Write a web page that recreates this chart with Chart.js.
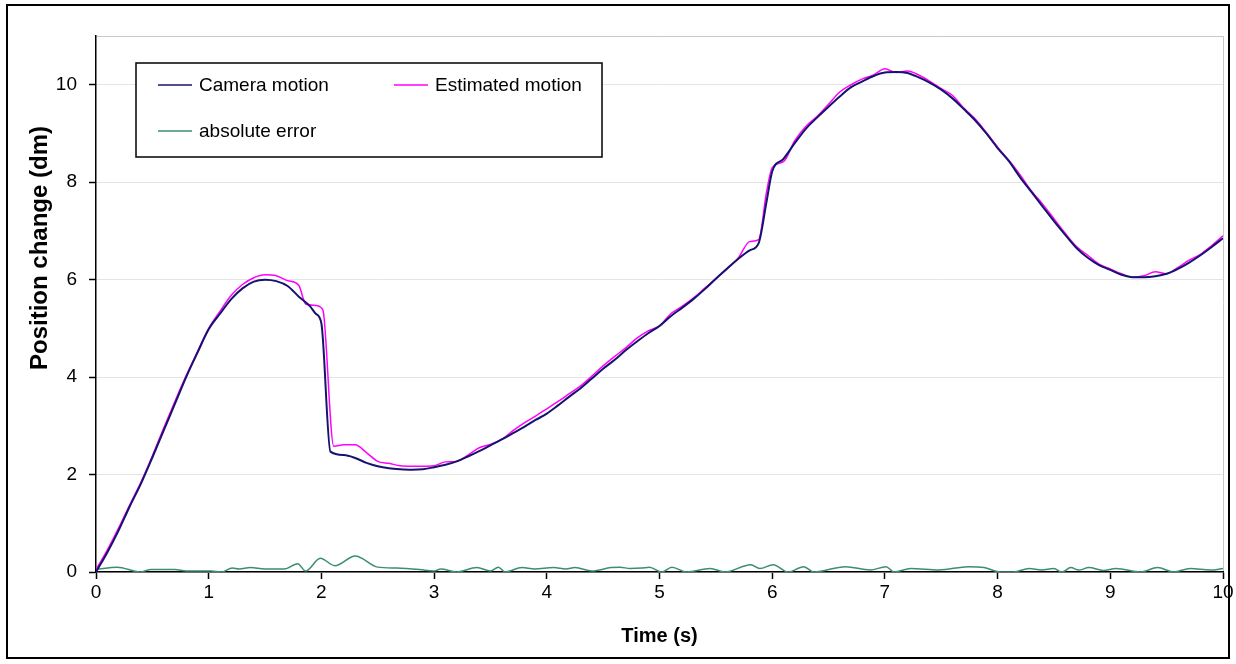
<!DOCTYPE html>
<html>
<head>
<meta charset="utf-8">
<script src="https://cdn.jsdelivr.net/npm/chart.js@4.4.1/dist/chart.umd.min.js"></script>
<style>
  html, body { margin: 0; padding: 0; background: #fff; }
  canvas { display: block; }
</style>
</head>
<body>
<canvas id="chart" width="1236" height="664"></canvas>
<script>
// time (s) and position (dm)
const cameraTime = [0, 0.1, 0.2, 0.3, 0.4, 0.5, 0.6, 0.7, 0.8, 0.9, 1.0, 1.1, 1.2, 1.3, 1.4, 1.5, 1.6, 1.7, 1.8, 1.9, 1.95, 2.0,
    2.08, 2.2, 2.3, 2.4, 2.5, 2.6, 2.7, 2.8, 2.9, 3.0, 3.1, 3.2, 3.3, 3.4, 3.5, 3.6, 3.7, 3.8, 3.9, 4.0,
    4.1, 4.2, 4.3, 4.4, 4.5, 4.6, 4.7, 4.8, 4.9, 5.0, 5.1, 5.2, 5.3, 5.4, 5.5, 5.6, 5.7, 5.8, 5.88, 5.95, 6.0,
    6.1, 6.2, 6.3, 6.4, 6.5, 6.6, 6.7, 6.8, 6.9, 7.0, 7.1, 7.2, 7.3, 7.4, 7.5, 7.6, 7.7, 7.8, 7.9, 8.0,
    8.1, 8.2, 8.3, 8.4, 8.5, 8.6, 8.7, 8.8, 8.9, 9.0, 9.1, 9.2, 9.3, 9.4, 9.5, 9.6, 9.7, 9.8, 9.9, 10.0];
const cameraMotion = [0, 0.4, 0.85, 1.35, 1.82, 2.35, 2.9, 3.45, 4.0, 4.5, 4.98, 5.3, 5.6, 5.82, 5.96, 6.0, 5.97, 5.87, 5.65, 5.45, 5.3, 5.1,
    2.47, 2.4, 2.34, 2.24, 2.17, 2.13, 2.11, 2.1, 2.11, 2.15, 2.2, 2.27, 2.37, 2.48, 2.6, 2.72, 2.85, 2.98, 3.12, 3.25,
    3.42, 3.6, 3.77, 3.97, 4.17, 4.35, 4.55, 4.73, 4.9, 5.05, 5.25, 5.42, 5.6, 5.8, 6.02, 6.23, 6.43, 6.6, 6.75, 7.6, 8.22,
    8.48, 8.8, 9.1, 9.33, 9.55, 9.76, 9.95, 10.07, 10.18, 10.25, 10.26, 10.24, 10.15, 10.04, 9.9, 9.72, 9.5, 9.27, 9.0, 8.7,
    8.43, 8.1, 7.8, 7.5, 7.2, 6.92, 6.65, 6.45, 6.3, 6.2, 6.1, 6.05, 6.05, 6.07, 6.12, 6.22, 6.35, 6.5, 6.67, 6.85];

const estimatedTime = [0, 0.1, 0.2, 0.3, 0.4, 0.5, 0.6, 0.7, 0.8, 0.9, 1.0, 1.1, 1.2, 1.3, 1.4, 1.5, 1.6, 1.7, 1.8, 1.86, 1.95, 2.0, 2.02,
    2.11, 2.2, 2.3, 2.4, 2.5, 2.6, 2.7, 2.8, 2.9, 3.0, 3.1, 3.2, 3.3, 3.4, 3.5, 3.6, 3.7, 3.8, 3.9, 4.0,
    4.1, 4.2, 4.3, 4.4, 4.5, 4.6, 4.7, 4.8, 4.9, 5.0, 5.1, 5.2, 5.3, 5.4, 5.5, 5.6, 5.7, 5.8, 5.88, 5.95, 6.0,
    6.1, 6.2, 6.3, 6.4, 6.5, 6.6, 6.7, 6.8, 6.9, 7.0, 7.1, 7.2, 7.3, 7.4, 7.5, 7.6, 7.7, 7.8, 7.9, 8.0,
    8.1, 8.2, 8.3, 8.4, 8.5, 8.6, 8.7, 8.8, 8.9, 9.0, 9.1, 9.2, 9.3, 9.4, 9.5, 9.6, 9.7, 9.8, 9.9, 10.0];
const estimatedMotion = [0.05, 0.45, 0.9, 1.38, 1.85, 2.38, 2.95, 3.5, 4.03, 4.52, 5.0, 5.35, 5.68, 5.9, 6.04, 6.1, 6.08, 5.98, 5.88, 5.5, 5.47, 5.42, 5.3,
    2.58, 2.61, 2.61, 2.45, 2.27, 2.23, 2.18, 2.17, 2.17, 2.18, 2.26, 2.27, 2.4, 2.55, 2.62, 2.72, 2.9, 3.06, 3.2, 3.35,
    3.5, 3.66, 3.82, 4.02, 4.23, 4.42, 4.6, 4.8, 4.95, 5.05, 5.3, 5.45, 5.62, 5.82, 6.02, 6.22, 6.45, 6.78, 6.82, 7.8, 8.3,
    8.42, 8.85, 9.15, 9.35, 9.6, 9.85, 10.0, 10.12, 10.2, 10.33, 10.25, 10.28, 10.2, 10.07, 9.92, 9.78, 9.52, 9.3, 9.02, 8.72,
    8.45, 8.15, 7.82, 7.55, 7.25, 6.95, 6.68, 6.5, 6.32, 6.22, 6.12, 6.05, 6.08, 6.16, 6.12, 6.25, 6.4, 6.52, 6.7, 6.9];

const errorTime = [0, 0.19, 0.39, 0.49, 0.7, 0.8, 1.02, 1.11, 1.21, 1.27, 1.37, 1.5, 1.67, 1.79, 1.86, 1.99, 2.12, 2.3, 2.5, 2.67, 2.87,
    3.0, 3.06, 3.2, 3.38, 3.5, 3.57, 3.63, 3.78, 3.89, 4.06, 4.17, 4.25, 4.4, 4.57, 4.65, 4.74, 4.84, 4.91, 5.02, 5.11, 5.24,
    5.45, 5.58, 5.81, 5.89, 6.01, 6.14, 6.28, 6.37, 6.65, 6.87, 7.01, 7.08, 7.23, 7.48, 7.74, 7.88, 8.03, 8.14, 8.28, 8.39,
    8.5, 8.57, 8.65, 8.72, 8.81, 8.94, 9.05, 9.27, 9.42, 9.56, 9.71, 9.89, 10.0];
const absoluteError = [0.05, 0.1, 0, 0.05, 0.05, 0.02, 0.02, 0, 0.08, 0.06, 0.09, 0.06, 0.06, 0.17, 0.02, 0.28, 0.13, 0.33, 0.1, 0.08, 0.05,
    0.02, 0.06, 0, 0.09, 0.02, 0.1, 0, 0.09, 0.06, 0.09, 0.06, 0.09, 0.02, 0.09, 0.1, 0.07, 0.08, 0.1, 0, 0.1, 0,
    0.07, 0, 0.15, 0.07, 0.15, 0, 0.11, 0, 0.11, 0.04, 0.11, 0, 0.07, 0.04, 0.11, 0.09, 0, 0, 0.07, 0.04,
    0.07, 0, 0.09, 0.04, 0.09, 0.03, 0.07, 0, 0.09, 0, 0.07, 0.04, 0.07];

const xTicks = [0, 1, 2, 3, 4, 5, 6, 7, 8, 9, 10];
const yTicks = [0, 2, 4, 6, 8, 10];
const yTitle = "Position change (dm)";

const toPoints = (xs, ys) => xs.map((x, i) => ({ x: x, y: ys[i] }));

const FONT = "'Liberation Sans', Arial, sans-serif";

// outer frame of the picture
const framePlugin = {
    id: "frame",
    beforeDraw(chart) {
        const ctx = chart.ctx;
        ctx.save();
        ctx.fillStyle = "#fff";
        ctx.fillRect(0, 0, chart.width, chart.height);
        ctx.strokeStyle = "#000";
        ctx.lineWidth = 2;
        ctx.strokeRect(7, 5, 1222, 653);
        ctx.restore();
    }
};

// the y title sits above the middle of the axis in the original
const yTitlePlugin = {
    id: "yTitle",
    afterDraw(chart) {
        const ctx = chart.ctx;
        ctx.save();
        ctx.translate(40, 248);
        ctx.rotate(-Math.PI / 2);
        ctx.font = "bold 24px " + FONT;
        ctx.fillStyle = "#000";
        ctx.textAlign = "center";
        ctx.textBaseline = "middle";
        ctx.fillText(yTitle, 0, 0);
        ctx.restore();
    }
};

// boxed legend inside the plot, like the original
const boxLegendPlugin = {
    id: "boxLegend",
    afterDraw(chart) {
        const ctx = chart.ctx;
        const sets = chart.data.datasets;
        const slots = [[158, 85], [394, 85], [158, 131]];
        ctx.save();
        ctx.fillStyle = "#fff";
        ctx.fillRect(136, 63, 466, 94);
        ctx.strokeStyle = "#000";
        ctx.lineWidth = 1.5;
        ctx.strokeRect(136, 63, 466, 94);
        ctx.font = "19px " + FONT;
        ctx.textBaseline = "middle";
        sets.forEach((ds, i) => {
            const [x, y] = slots[i];
            ctx.strokeStyle = ds.borderColor;
            ctx.lineWidth = 1.5;
            ctx.beginPath();
            ctx.moveTo(x, y);
            ctx.lineTo(x + 34, y);
            ctx.stroke();
            ctx.fillStyle = "#000";
            ctx.fillText(ds.label, x + 41, y + 1);
        });
        ctx.restore();
    }
};

const chart = new Chart(document.getElementById("chart"), {
    type: "line",
    data: {
        datasets: [
            { label: "Camera motion", data: toPoints(cameraTime, cameraMotion), borderColor: "#14146e", borderWidth: 2 },
            { label: "Estimated motion", data: toPoints(estimatedTime, estimatedMotion), borderColor: "#ff00ff", borderWidth: 1.5 },
            { label: "absolute error", data: toPoints(errorTime, absoluteError), borderColor: "#3a8f6e", borderWidth: 1.5 }
        ]
    },
    options: {
        responsive: false,
        animation: false,
        elements: {
            point: { radius: 0 },
            line: { cubicInterpolationMode: "monotone", fill: false }
        },
        layout: { padding: { top: 36, left: 14, right: 13, bottom: 10 } },
        plugins: { legend: { display: false }, tooltip: { enabled: false } },
        scales: {
            x: {
                type: "linear",
                min: 0,
                max: 10,
                afterBuildTicks: s => { s.ticks = xTicks.map(v => ({ value: v })); },
                afterFit: s => { s.height = 82; },
                ticks: { color: "#000", font: { family: FONT, size: 19 }, padding: 2, maxRotation: 0 },
                grid: {
                    color: c => (c.tick && c.tick.value === 10 ? "#c8c8c8" : "transparent"),
                    tickColor: "#000",
                    tickLength: 7,
                    tickWidth: 1.5
                },
                border: { color: "#000", width: 1.5 },
                title: { display: true, text: "Time (s)", color: "#000", font: { family: FONT, size: 20, weight: "bold" }, padding: { top: 10, bottom: 6 } }
            },
            y: {
                min: 0,
                max: 11,
                afterBuildTicks: s => { s.ticks = yTicks.concat([11]).map(v => ({ value: v })); },
                afterFit: s => { s.width = 82; },
                ticks: {
                    color: "#000",
                    font: { family: FONT, size: 19 },
                    padding: 12,
                    callback: v => (v === 11 ? "" : v)
                },
                grid: {
                    color: c => (c.tick && c.tick.value === 11 ? "#c8c8c8" : "#e4e4e4"),
                    tickColor: c => (c.tick && c.tick.value === 11 ? "transparent" : "#000"),
                    tickLength: 7,
                    tickWidth: 1.5
                },
                border: { color: "#000", width: 1.5 }
            }
        }
    },
    plugins: [framePlugin, yTitlePlugin, boxLegendPlugin]
});
</script>
</body>
</html>
